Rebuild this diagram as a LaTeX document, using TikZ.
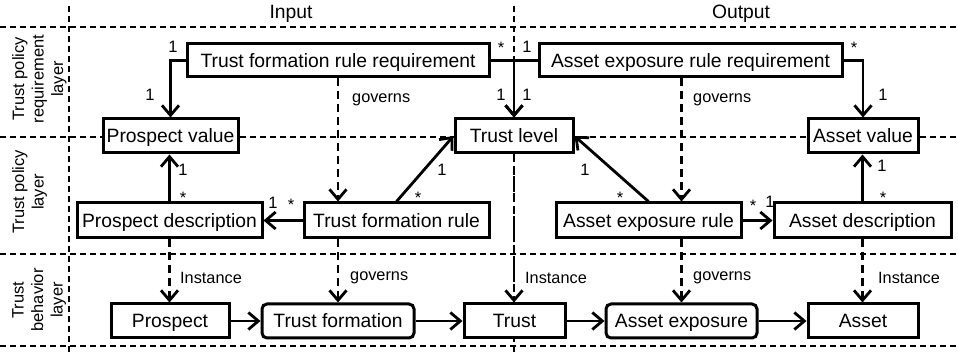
\documentclass[tikz,border=0pt]{standalone}
\usepackage{fontspec}
\setmainfont{Liberation Sans}
\usetikzlibrary{arrows.meta}
\begin{document}
\begin{tikzpicture}[x=1pt,y=-1pt,
  grid/.style={line width=1.2pt, dash pattern=on 6pt off 4pt},
  box/.style={draw, line width=3pt, fill=white, inner sep=0pt, minimum height=34pt,
     text height=13.8pt, text depth=0pt, font=\fontsize{19.3}{22}\selectfont},
  rbox/.style={box, rounded corners=5pt},
  arr/.style={line width=2.8pt, -{Straight Barb[length=10pt,width=17pt]}},
  darr/.style={arr, dash pattern=on 8pt off 5pt},
  lbl/.style={font=\fontsize{16.3}{18}\selectfont, inner sep=0pt, anchor=west},
  mult/.style={font=\fontsize{16.5}{18}\selectfont, inner sep=0pt, anchor=base},
  side/.style={font=\fontsize{16.5}{19.5}\selectfont, inner sep=0pt, rotate=90, align=center, anchor=north},
  head/.style={font=\fontsize{19.3}{22}\selectfont, inner sep=0pt}]
\useasboundingbox (0,0) rectangle (958,352);
% grid
\draw[grid] (69,6) -- (69,352);
\draw[grid] (514,6) -- (514,352);
\foreach \yy in {27,137,254,346} \draw[grid] (0,\yy) -- (958,\yy);
% headers
\node[head] (hin) at (291,14) {Input};
\node[head] (hout) at (741,14) {Output};
\node[side] (s1) at (12,79) {Trust policy\\requirement\\layer};
\node[side] (s2) at (12,192) {Trust policy\\layer};
\node[side] (s3) at (12,300) {Trust\\behavior\\layer};
% nodes
\node[box, minimum width=302pt, minimum height=33pt] (tfrr) at (338,60.5) {Trust formation rule requirement};
\node[box, minimum width=303pt, minimum height=33pt] (aerr) at (690.5,60.5) {Asset exposure rule requirement};
\node[box, minimum width=135pt] (pv) at (170.5,136) {Prospect value};
\node[box, minimum width=118pt] (tl) at (514,136) {Trust level};
\node[box, minimum width=110pt] (av) at (863,136) {Asset value};
\node[box, minimum width=185pt, minimum height=35pt] (pd) at (169.5,220.5) {Prospect description};
\node[box, minimum width=185pt, minimum height=35pt] (tfr) at (396.5,220.5) {Trust formation rule};
\node[box, minimum width=185pt, minimum height=35pt] (aer) at (648.5,220.5) {Asset exposure rule};
\node[box, minimum width=177pt, minimum height=35pt] (ad) at (862.5,220.5) {Asset description};
\node[box, minimum width=118pt] (p) at (170,321) {Prospect};
\node[rbox, minimum width=152pt] (tf) at (338,321) {Trust formation};
\node[box, minimum width=101pt] (t) at (514.5,321) {Trust};
\node[rbox, minimum width=151pt] (ae) at (681.5,321) {Asset exposure};
\node[box, minimum width=110pt] (a) at (863,321) {Asset};
% top layer connectors
\draw[arr] (tfrr.west) -| (pv.north);
\draw[arr] (tfrr.east) -| (tl.north);
\draw[arr] (aerr.west) -| (tl.north);
\draw[arr] (aerr.east) -| (av.north);
\draw[darr] (tfrr.south -| tf.north) -- (tfr.north -| tf.north);
\draw[darr] (aerr.south -| ae.north) -- (aer.north -| ae.north);
% middle layer connectors
\draw[arr] (pd.north) -- (pd.north |- pv.south);
\draw[arr] (ad.north) -- (ad.north |- av.south);
\draw[arr] (tfr.north) -- (tl.west);
\draw[arr] (aer.north) -- (tl.east);
\draw[arr] (tfr.west) -- (pd.east);
\draw[arr] (aer.east) -- (ad.west);
% to bottom layer
\draw[darr] (pd.south) -- (pd.south |- p.north);
\draw[darr] (tfr.south -| tf.north) -- (tf.north);
\draw[darr] (tl.south) -- (tl.south |- t.north);
\draw[darr] (aer.south -| ae.north) -- (ae.north);
\draw[darr] (ad.south) -- (ad.south |- a.north);
% bottom flow
\draw[arr] (p.east) -- (tf.west);
\draw[arr] (tf.east) -- (t.west);
\draw[arr] (t.east) -- (ae.west);
\draw[arr] (ae.east) -- (a.west);
% labels
\node[lbl] (g1) at (352,100) {governs};
\node[lbl] (g2) at (693,100) {governs};
\node[lbl] (i1) at (180,278) {Instance};
\node[lbl] (g3) at (350,278) {governs};
\node[lbl] (i2) at (525,278) {Instance};
\node[lbl] (g4) at (693,278) {governs};
\node[lbl] (i3) at (878,278) {Instance};
% multiplicities
\node[mult] (m1) at (173,53) {1};
\node[mult] (m2) at (150,101) {1};
\node[mult] (m3) at (501,54) {*};
\node[mult] (m4) at (527,53) {1};
\node[mult] (m5) at (501,101) {1};
\node[mult] (m6) at (527,101) {1};
\node[mult] (m7) at (854,54) {*};
\node[mult] (m8) at (883,101) {1};
\node[mult] (m9) at (183,176) {1};
\node[mult] (m10) at (183,204) {*};
\node[mult] (m11) at (442,176) {1};
\node[mult] (m12) at (418,204) {*};
\node[mult] (m13) at (585,176) {1};
\node[mult] (m14) at (620,204) {*};
\node[mult] (m15) at (882,172) {1};
\node[mult] (m16) at (883,204) {*};
\node[mult] (m17) at (273,209) {1};
\node[mult] (m18) at (291,211) {*};
\node[mult] (m19) at (753,212) {*};
\node[mult] (m20) at (770,208) {1};
\end{tikzpicture}
\end{document}
